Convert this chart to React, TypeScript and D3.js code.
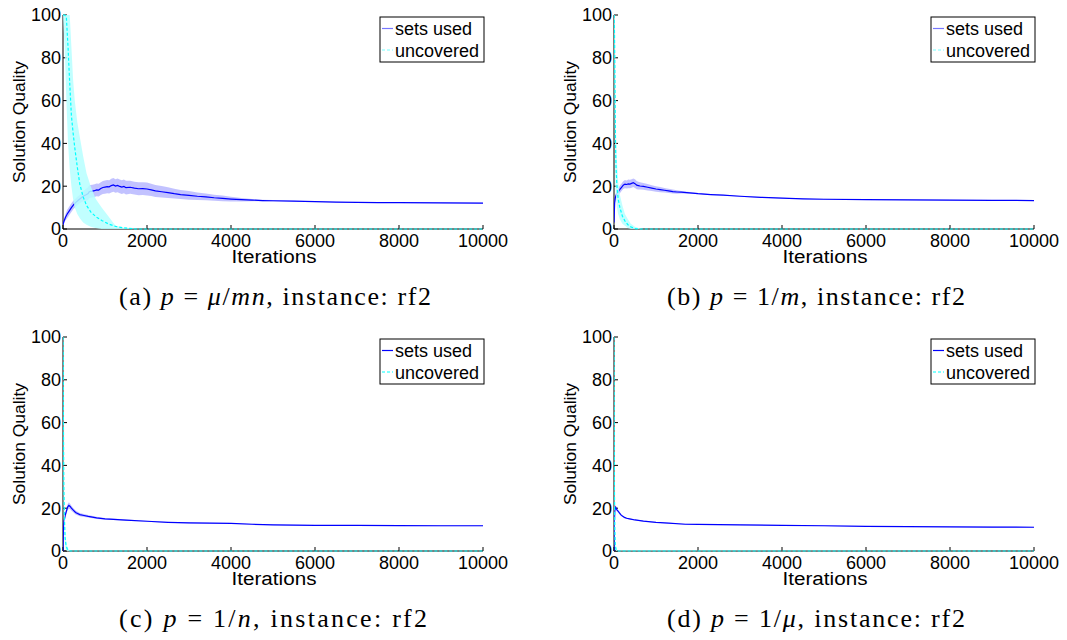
import React from 'react';
import * as d3 from 'd3';

const X_TICKS = [0, 2000, 4000, 6000, 8000, 10000];
const Y_TICKS = [0, 20, 40, 60, 80, 100];
const SERIES_NAMES = ['sets used', 'uncovered'];
const X_LABEL = 'Iterations';
const Y_LABEL = 'Solution Quality';

// ---------- (a) p = mu/mn ----------
const A_SETS_ITER = [0, 30, 60, 100, 150, 200, 250, 300, 350, 400, 450, 500, 550, 600, 620, 650, 700, 750, 800, 850, 900, 950, 1000, 1050, 1100, 1150, 1200, 1250, 1300, 1350, 1400, 1450, 1500, 1600, 1700, 1800, 1900, 2000, 2100, 2200, 2350, 2500, 2650, 2800, 3000, 3200, 3400, 3600, 3800, 4000, 4250, 4500, 4750, 5000, 5500, 6000, 6500, 7000, 7500, 8000, 9000, 10000];
const A_SETS_MEAN = [2, 4, 5.5, 7, 8.5, 10, 11.3, 12.3, 13.2, 14, 14.8, 15.5, 16, 16.6, 17.3, 17.6, 17.7, 17.9, 18.3, 18.2, 18.9, 19.4, 19.6, 19.8, 19.7, 20.3, 20.6, 20.1, 20.4, 19.9, 19.6, 19.9, 19.3, 19.5, 19.1, 18.8, 18.9, 18.7, 18.3, 17.8, 17.4, 17.0, 16.5, 16.1, 15.7, 15.3, 15.0, 14.6, 14.3, 14.0, 13.7, 13.5, 13.3, 13.2, 13.0, 12.8, 12.6, 12.4, 12.35, 12.3, 12.2, 12.1];
const A_SETS_SD = [0.5, 1, 1.5, 2, 2, 2, 2, 2, 2, 2, 2.2, 2.5, 2.8, 3, 3, 3, 3, 3, 3, 3, 3, 3, 3.1, 3.1, 3.1, 3.2, 3.2, 3.2, 3.2, 3.2, 3.2, 3.2, 3.2, 3, 3, 3, 3, 3, 2.9, 2.8, 2.7, 2.5, 2.3, 2.1, 2, 1.8, 1.6, 1.4, 1.3, 1.1, 0.8, 0.5, 0.35, 0.3, 0.25, 0.2, 0.15, 0.15, 0.15, 0.15, 0.15, 0.15];
const A_UNC_ITER = [0, 40, 80, 120, 160, 200, 240, 280, 340, 400, 480, 560, 660, 780, 920, 1080, 1250, 1450, 1750, 2000, 10000];
const A_UNC_MEAN = [100, 100, 99, 85, 68, 53, 45, 38, 29, 21, 15, 11, 8, 5.8, 4, 2.4, 1.2, 0.5, 0, 0, 0];
const A_UNC_LO = [100, 85, 60, 40, 28, 20, 14, 10, 7, 5, 3, 2, 1, 0.5, 0, 0, 0, 0, 0, 0, 0];
const A_UNC_HI = [100, 100, 100, 100, 100, 85, 70, 60, 50, 43, 34, 26, 20, 14, 10, 6, 1.5, 0.6, 0.1, 0, 0];

// ---------- (b) p = 1/m ----------
const B_SETS_ITER = [0, 15, 30, 50, 80, 110, 140, 180, 220, 260, 300, 340, 380, 420, 460, 500, 540, 580, 620, 700, 800, 900, 1000, 1100, 1200, 1300, 1400, 1500, 1600, 1800, 2000, 2300, 2600, 3000, 3500, 4000, 4500, 5000, 6000, 7000, 8000, 9000, 10000];
const B_SETS_MEAN = [3, 12, 14.5, 15.8, 16.8, 17.6, 18.5, 19.5, 20.5, 21, 20.8, 21.1, 21, 21.3, 21.6, 21.2, 20.5, 20.3, 20.1, 19.9, 19.5, 19.1, 18.7, 18.4, 18.1, 17.8, 17.5, 17.3, 17.2, 16.9, 16.5, 16.1, 15.8, 15.3, 14.8, 14.4, 14.1, 13.9, 13.7, 13.6, 13.5, 13.4, 13.3];
const B_SETS_SD = [0.5, 1, 1.3, 1.5, 1.6, 1.7, 1.8, 1.8, 1.8, 1.9, 1.9, 2, 2, 2, 2, 2, 1.9, 1.8, 1.7, 1.6, 1.5, 1.4, 1.3, 1.2, 1.1, 1, 0.9, 0.8, 0.6, 0.4, 0.3, 0.25, 0.2, 0.2, 0.2, 0.2, 0.2, 0.2, 0.2, 0.2, 0.2, 0.2, 0.2];
const B_UNC_ITER = [0, 10, 20, 35, 50, 70, 100, 140, 200, 260, 330, 400, 500, 600, 700, 10000];
const B_UNC_MEAN = [100, 95, 75, 40, 28, 20, 14, 10, 6, 3.8, 2, 1, 0.2, 0, 0, 0];
const B_UNC_LO = [100, 80, 50, 20, 14, 10, 7, 4.5, 2.5, 1.5, 0.5, 0, 0, 0, 0, 0];
const B_UNC_HI = [100, 100, 100, 70, 45, 32, 22, 16, 11, 7, 4.5, 2.5, 1, 0.3, 0, 0];

// ---------- (c) p = 1/n ----------
const C_SETS_ITER = [0, 10, 25, 50, 80, 110, 140, 170, 200, 250, 300, 400, 500, 600, 800, 1000, 1200, 1500, 2000, 2500, 3000, 3500, 4000, 4500, 5000, 6000, 7000, 8000, 9000, 10000];
const C_SETS_MEAN = [0, 10, 14, 16.5, 18.5, 20.5, 21.3, 20.8, 20, 19, 18, 17, 16.6, 16.2, 15.5, 15, 14.8, 14.4, 13.9, 13.4, 13.1, 13, 12.9, 12.5, 12.2, 12, 12, 11.9, 11.8, 11.8];
const C_SETS_SD = [0, 1, 1.2, 1.5, 1.5, 1.5, 1.5, 1.3, 1.2, 1, 0.9, 0.8, 0.7, 0.6, 0.5, 0.4, 0.35, 0.3, 0.25, 0.2, 0.2, 0.2, 0.2, 0.2, 0.2, 0.2, 0.2, 0.2, 0.2, 0.2];
const C_UNC_ITER = [0, 5, 10, 20, 35, 50, 70, 100, 140, 180, 10000];
const C_UNC_MEAN = [100, 90, 60, 30, 15, 6, 3, 1, 0.2, 0, 0];
const C_UNC_LO = [100, 80, 45, 18, 8, 2, 0.5, 0, 0, 0, 0];
const C_UNC_HI = [100, 100, 75, 42, 22, 10, 5, 2, 0.6, 0.1, 0];

// ---------- (d) p = 1/mu ----------
const D_SETS_ITER = [0, 10, 20, 40, 60, 90, 120, 160, 200, 250, 300, 400, 500, 700, 1000, 1300, 1700, 2000, 3000, 4000, 5000, 6000, 7000, 8000, 9000, 10000];
const D_SETS_MEAN = [0, 14, 19, 20.4, 19.5, 18.8, 18, 17, 16.3, 15.7, 15.3, 14.9, 14.5, 14, 13.4, 13, 12.5, 12.4, 12.2, 12, 11.8, 11.5, 11.4, 11.3, 11.2, 11.1];
const D_SETS_SD = [0, 1, 1, 1, 0.8, 0.7, 0.6, 0.5, 0.4, 0.35, 0.3, 0.25, 0.2, 0.2, 0.2, 0.2, 0.2, 0.2, 0.2, 0.2, 0.2, 0.2, 0.2, 0.2, 0.2, 0.2];
const D_UNC_ITER = [0, 5, 10, 20, 30, 50, 80, 10000];
const D_UNC_MEAN = [100, 60, 30, 10, 3, 0.5, 0, 0];
const D_UNC_LO = [100, 45, 18, 5, 1, 0, 0, 0];
const D_UNC_HI = [100, 75, 42, 16, 6, 1.5, 0.2, 0];

type Cap = { t: string; i?: boolean };
const CAP_A: Cap[] = [{ t: '(a) ' }, { t: 'p', i: true }, { t: ' = ' }, { t: 'μ', i: true }, { t: '/' }, { t: 'mn', i: true }, { t: ', instance: rf2' }];
const CAP_B: Cap[] = [{ t: '(b) ' }, { t: 'p', i: true }, { t: ' = 1/' }, { t: 'm', i: true }, { t: ', instance: rf2' }];
const CAP_C: Cap[] = [{ t: '(c) ' }, { t: 'p', i: true }, { t: ' = 1/' }, { t: 'n', i: true }, { t: ', instance: rf2' }];
const CAP_D: Cap[] = [{ t: '(d) ' }, { t: 'p', i: true }, { t: ' = 1/' }, { t: 'μ', i: true }, { t: ', instance: rf2' }];

const PLOT_W = 420;
const PLOT_H = 214;
const BLUE = '#0000ff';
const CYAN = '#00ffff';
const SANS = '"Liberation Sans", Arial, Helvetica, sans-serif';
const SERIF = '"Liberation Serif", "Times New Roman", serif';

const panels = [
  { id: 'a', left: 63, top: 15, capX: 275, capLen: 312, cap: CAP_A, light: true,
    si: A_SETS_ITER, sm: A_SETS_MEAN, sd: A_SETS_SD, ui: A_UNC_ITER, um: A_UNC_MEAN, ul: A_UNC_LO, uh: A_UNC_HI },
  { id: 'b', left: 614, top: 15, capX: 816, capLen: 298, cap: CAP_B, light: true,
    si: B_SETS_ITER, sm: B_SETS_MEAN, sd: B_SETS_SD, ui: B_UNC_ITER, um: B_UNC_MEAN, ul: B_UNC_LO, uh: B_UNC_HI },
  { id: 'c', left: 63, top: 337, capX: 273, capLen: 308, cap: CAP_C, light: false,
    si: C_SETS_ITER, sm: C_SETS_MEAN, sd: C_SETS_SD, ui: C_UNC_ITER, um: C_UNC_MEAN, ul: C_UNC_LO, uh: C_UNC_HI },
  { id: 'd', left: 614, top: 337, capX: 816, capLen: 298, cap: CAP_D, light: false,
    si: D_SETS_ITER, sm: D_SETS_MEAN, sd: D_SETS_SD, ui: D_UNC_ITER, um: D_UNC_MEAN, ul: D_UNC_LO, uh: D_UNC_HI },
];

function Panel({ p }: { p: any }) {
  const x = d3.scaleLinear().domain([0, 10000]).range([p.left, p.left + PLOT_W]);
  const y = d3.scaleLinear().domain([0, 100]).range([p.top + PLOT_H, p.top]);
  const clipId = 'clip-' + p.id;

  const setsIdx = d3.range(p.si.length);
  const uncIdx = d3.range(p.ui.length);

  const setsArea = d3.area<number>()
    .x((i) => x(p.si[i]))
    .y0((i) => y(Math.max(0, p.sm[i] - p.sd[i])))
    .y1((i) => y(p.sm[i] + p.sd[i]));
  const setsLine = d3.line<number>().x((i) => x(p.si[i])).y((i) => y(p.sm[i]));
  const uncArea = d3.area<number>()
    .x((i) => x(p.ui[i]))
    .y0((i) => y(p.ul[i]))
    .y1((i) => y(p.uh[i]));
  const uncLine = d3.line<number>().x((i) => x(p.ui[i])).y((i) => y(p.um[i]));

  const x0 = p.left;
  const yb = p.top + PLOT_H;
  const lgX = p.left + 317;
  const lgY = p.top + 2;

  return (
    <g>
      <defs>
        <clipPath id={clipId}>
          <rect x={p.left} y={p.top - 1} width={PLOT_W + 1} height={PLOT_H + 2} />
        </clipPath>
      </defs>
      {/* axes */}
      <line x1={x0} x2={x0} y1={p.top} y2={yb} stroke="#000" strokeWidth={1} />
      <line x1={x0} x2={p.left + PLOT_W} y1={yb} y2={yb} stroke="#000" strokeWidth={1} />
      {Y_TICKS.map((t) => (
        <g key={'y' + t}>
          <line x1={x0} x2={x0 + 4} y1={y(t)} y2={y(t)} stroke="#000" strokeWidth={1} />
          <text x={x0 - 2} y={y(t)} dy="0.36em" textAnchor="end" fontFamily={SANS} fontSize={18} fill="#000">{t}</text>
        </g>
      ))}
      {X_TICKS.map((t) => (
        <g key={'x' + t}>
          <line x1={x(t)} x2={x(t)} y1={yb} y2={yb - 4} stroke="#000" strokeWidth={1} />
          <text x={x(t)} y={yb + 18} textAnchor="middle" fontFamily={SANS} fontSize={18} fill="#000">{t}</text>
        </g>
      ))}
      <text x={p.left + 211} y={yb + 34} textAnchor="middle" fontFamily={SANS} fontSize={18} textLength={85} lengthAdjust="spacingAndGlyphs" fill="#000">{X_LABEL}</text>
      <text transform={`translate(${p.left - 38},${p.top + PLOT_H / 2}) rotate(-90)`} textAnchor="middle" fontFamily={SANS} fontSize={17} textLength={122} lengthAdjust="spacingAndGlyphs" fill="#000">{Y_LABEL}</text>

      {/* data */}
      <g clipPath={`url(#${clipId})`}>
        <path d={setsArea(setsIdx) || ''} fill={BLUE} fillOpacity={0.24} stroke="none" />
        <path d={setsLine(setsIdx) || ''} fill="none" stroke={BLUE} strokeWidth={1.2} />
        <path d={uncArea(uncIdx) || ''} fill="#b6ffff" fillOpacity={0.85} stroke="none" />
        <path d={uncLine(uncIdx) || ''} fill="none" stroke={CYAN} strokeWidth={1.2} strokeDasharray="3,2" />
      </g>

      {/* legend */}
      <rect x={lgX} y={lgY} width={104} height={45} fill="#fff" stroke="#000" strokeWidth={1} />
      <line x1={lgX + 2} x2={lgX + 13} y1={lgY + 11.5} y2={lgY + 11.5} stroke={p.light ? '#7777ff' : BLUE} strokeWidth={1.2} />
      <line x1={lgX + 2} x2={lgX + 13} y1={lgY + 33} y2={lgY + 33} stroke={p.light ? '#77ffff' : CYAN} strokeWidth={1.2} strokeDasharray="3,2" />
      <text x={lgX + 15} y={lgY + 18} fontFamily={SANS} fontSize={18} fill="#000">{SERIES_NAMES[0]}</text>
      <text x={lgX + 15} y={lgY + 40} fontFamily={SANS} fontSize={18} fill="#000">{SERIES_NAMES[1]}</text>

      {/* caption */}
      <text x={p.capX} y={p.top + 289.5} textAnchor="middle" fontFamily={SERIF} fontSize={26} textLength={p.capLen} lengthAdjust="spacing" fill="#000">
        {p.cap.map((c: Cap, i: number) => (
          <tspan key={i} fontStyle={c.i ? 'italic' : 'normal'}>{c.t}</tspan>
        ))}
      </text>
    </g>
  );
}

export default function App() {
  return (
    <svg width={1067} height={640} viewBox="0 0 1067 640" style={{ position: 'absolute', left: 0, top: 0, background: '#fff' }}>
      <rect x={0} y={0} width={1067} height={640} fill="#fff" />
      {panels.map((p) => (
        <Panel key={p.id} p={p} />
      ))}
    </svg>
  );
}
